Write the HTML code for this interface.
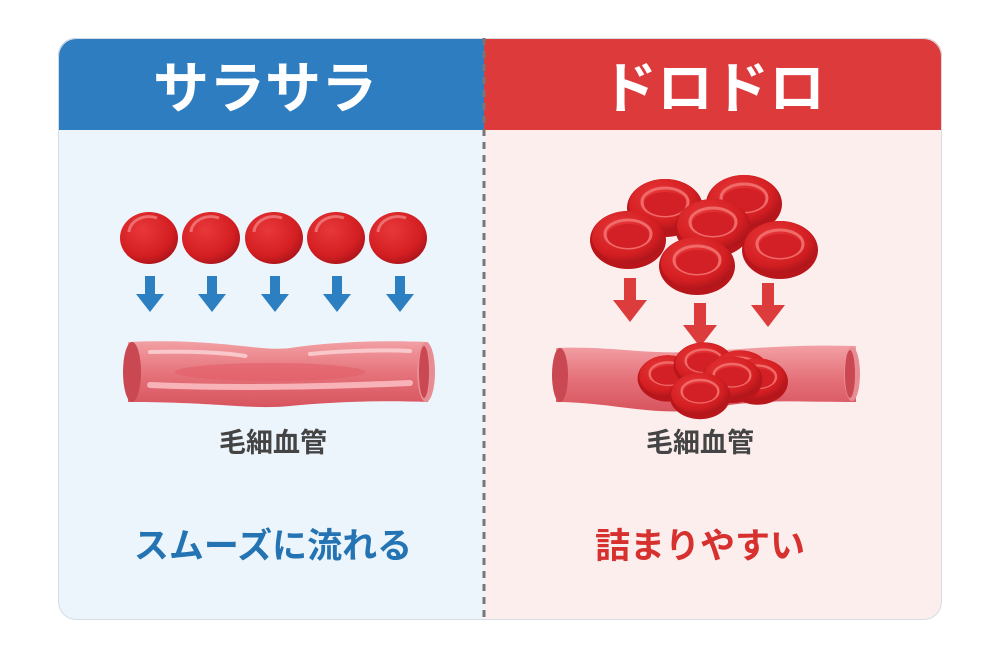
<!DOCTYPE html>
<html><head><meta charset="utf-8"><style>
body{margin:0;background:#fff;width:1000px;height:666px;overflow:hidden}
svg text{font-family:"Liberation Sans","Noto Sans CJK JP",sans-serif;font-weight:bold}
</style></head><body>
<svg width="1000" height="666" viewBox="0 0 1000 666">
<defs>
<radialGradient id="rbc" cx="40%" cy="35%" r="70%"><stop offset="0" stop-color="#e8383a"/><stop offset="0.7" stop-color="#d41f22"/><stop offset="1" stop-color="#a8141a"/></radialGradient>
<linearGradient id="tube" x1="0" y1="0" x2="0" y2="1"><stop offset="0" stop-color="#f2a0a4"/><stop offset="0.5" stop-color="#e5727a"/><stop offset="1" stop-color="#d8545e"/></linearGradient>
<clipPath id="card"><rect x="58" y="38" width="884" height="582" rx="18"/></clipPath>
<g id="cell"><ellipse rx="29" ry="26" fill="url(#rbc)"/><path d="M-20,-6 A20,16 0 0 1 8,-20" stroke="#f48a8a" stroke-width="3" fill="none" opacity="0.7"/></g>
<g id="disc"><ellipse rx="38" ry="29" fill="#b8161b"/><ellipse rx="36" ry="26" cy="-3" fill="url(#rbc)"/><ellipse rx="23" ry="14" cy="-6" fill="none" stroke="#f06a6a" stroke-width="3"/><ellipse rx="21" ry="12" cy="-4" fill="#d22026"/></g>
<g id="bar"><rect x="-5" y="0" width="10" height="20" fill="#2c7fc0"/><polygon points="-14,18 14,18 0,36" fill="#2c7fc0"/></g>
<g id="rar"><rect x="-6" y="0" width="12" height="24" fill="#dc3c3c"/><polygon points="-17,22 17,22 0,44" fill="#dc3c3c"/></g>
</defs>
<g clip-path="url(#card)">
<rect x="58" y="38" width="426" height="582" fill="#edf5fc"/>
<rect x="484" y="38" width="458" height="582" fill="#fdeeee"/>
<rect x="58" y="38" width="426" height="92" fill="#2d7dc0"/>
<rect x="484" y="38" width="458" height="92" fill="#dd3a3c"/>
</g>
<rect x="58.5" y="38.5" width="883" height="581" rx="18" fill="none" stroke="#d8dde4"/>
<line x1="484" y1="38" x2="484" y2="620" stroke="#777" stroke-width="3" stroke-dasharray="7,6"/>
<text x="265" y="108" font-size="56" fill="#fff" text-anchor="middle">サラサラ</text>
<text x="713" y="108" font-size="56" fill="#fff" text-anchor="middle">ドロドロ</text>
<use href="#cell" x="149" y="238"/><use href="#cell" x="211" y="238"/><use href="#cell" x="274" y="238"/><use href="#cell" x="336" y="238"/><use href="#cell" x="398" y="238"/>
<use href="#bar" x="150" y="276"/><use href="#bar" x="212" y="276"/><use href="#bar" x="275" y="276"/><use href="#bar" x="337" y="276"/><use href="#bar" x="400" y="276"/>
<path d="M128,342 C220,338 260,352 290,348 C330,342 380,340 428,342 L428,402 C380,400 330,402 290,406 C250,410 220,402 128,402 Z" fill="url(#tube)"/>
<ellipse cx="132" cy="372" rx="9" ry="30" fill="#c94852"/>
<ellipse cx="426" cy="372" rx="9" ry="30" fill="#e88d94"/>
<ellipse cx="424" cy="372" rx="5" ry="26" fill="#c94852"/>
<ellipse cx="270" cy="372" rx="95" ry="9" fill="#e35e68" opacity="0.6"/>
<path d="M150,352 C220,350 250,357 245,356" stroke="#f9c8ca" stroke-width="4" fill="none" stroke-linecap="round"/>
<path d="M310,354 C350,350 390,350 410,351" stroke="#f9c8ca" stroke-width="4" fill="none" stroke-linecap="round"/>
<path d="M150,385 C220,388 300,388 410,383" stroke="#f7b3b7" stroke-width="6" fill="none" stroke-linecap="round"/>
<text x="273" y="452" font-size="27" fill="#444" text-anchor="middle">毛細血管</text>
<text x="273" y="558" font-size="35" fill="#2474b4" text-anchor="middle">スムーズに流れる</text>
<use href="#disc" x="665" y="208"/><use href="#disc" x="744" y="204"/><use href="#disc" x="628" y="240"/><use href="#disc" x="713" y="228"/><use href="#disc" x="780" y="250"/><use href="#disc" x="697" y="266"/>
<use href="#rar" x="630" y="278"/><use href="#rar" x="700" y="303"/><use href="#rar" x="768" y="283"/>
<path d="M556,348 C610,346 640,354 690,352 C740,350 780,344 856,346 L856,402 C790,402 760,398 700,410 C650,416 610,402 556,402 Z" fill="url(#tube)"/>
<ellipse cx="560" cy="375" rx="8" ry="27" fill="#c94852"/>
<ellipse cx="852" cy="374" rx="8" ry="27" fill="#e88d94"/>
<ellipse cx="850" cy="374" rx="5" ry="24" fill="#c94852"/>
<g transform="translate(700,380) scale(0.8) translate(-700,-380)">
<use href="#disc" x="660" y="378"/><use href="#disc" x="705" y="362"/><use href="#disc" x="750" y="372"/><use href="#disc" x="772" y="382"/><use href="#disc" x="740" y="380"/><use href="#disc" x="700" y="400"/>
</g>
<text x="700" y="452" font-size="27" fill="#444" text-anchor="middle">毛細血管</text>
<text x="700" y="558" font-size="35" fill="#d6302f" text-anchor="middle">詰まりやすい</text>
</svg>
</body></html>
